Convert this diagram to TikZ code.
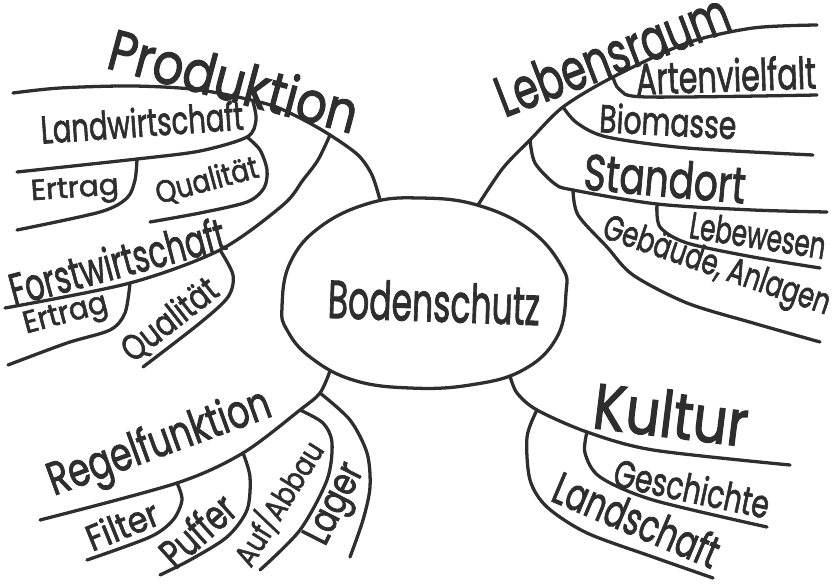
\documentclass[tikz,border=0pt]{standalone}
\usepackage{fontspec}
\setmainfont{Poppins}[FakeBold=2]
\usepackage{graphicx}
\definecolor{ink}{HTML}{2E2E2E}
\newlength{\pxu}\setlength{\pxu}{0.03cm}
\newcommand{\hand}[3]{\resizebox*{#1\pxu}{#2\pxu}{#3}}
\tikzset{
  branch/.style={draw=ink, line width=2.8pt, line cap=round, line join=round},
  word/.style={text=ink, inner sep=0pt},
}

\begin{document}
\begin{tikzpicture}[x=0.03cm, y=-0.03cm]
    \useasboundingbox (0,0) rectangle (838,584);
    % centre
    \node[word, rotate=-2] (boden) at (434,302) {\hand{212}{40}{Bodenschutz}};
    \draw[branch] plot[smooth cycle, tension=0.7] coordinates {(282,307) (290,263) (320,227) (370,203) (420,198) (477,205) (530,230) (562,267) (566,293) (557,337) (523,370) (470,385) (410,388) (353,380) (310,357) (287,330)};
    \coordinate (eP) at (380,200);
    \coordinate (eL) at (478,205);
    \coordinate (eR) at (330,371);
    \coordinate (eK) at (510,376);

    % Produktion
    \coordinate (pF) at (330,135);
    \coordinate (pL) at (253,102);
    \coordinate (pQ) at (247,137);
    \coordinate (pE) at (137,159);
    \coordinate (fQ) at (220,250);
    \coordinate (fE) at (130,283);
    \draw[branch] plot[smooth] coordinates {(eP) (372,175) (358,155) (pF) (300,118) (267,104) (200,90) (133,86) (60,88) (13,93)};
    \draw[branch] plot[smooth] coordinates {(pL) (256,120) (pQ) (200,151) (pE) (17,172)};
    \draw[branch] plot[smooth] coordinates {(pQ) (260,150) (267,170) (264,188) (247,202) (200,213) (150,222)};
    \draw[branch] plot[smooth] coordinates {(pE) (135,180) (127,198) (100,212) (17,230)};
    \draw[branch] plot[smooth] coordinates {(pF) (318,160) (303,180) (283,205) (fQ) (fE) (5,308)};
    \draw[branch] plot[smooth] coordinates {(fQ) (233,275) (228,297) (200,323) (143,367)};
    \draw[branch] plot[smooth] coordinates {(fE) (125,313) (110,330) (67,343) (8,365)};
    \node[word, rotate=-15] (prod) at (234,80) {\hand{256}{44}{Produktion}};
    \node[word, rotate=4] (landw) at (142,122) {\hand{203}{30}{Landwirtschaft}};
    \node[word, rotate=4] (ertragA) at (75,191) {\hand{88}{28}{Ertrag}};
    \node[word, rotate=15] (qualA) at (207,181) {\hand{105}{28}{Qualität}};
    \node[word, rotate=15] (forst) at (117,261) {\hand{222}{35}{Forstwirtschaft}};
    \node[word, rotate=15] (ertragB) at (66,316) {\hand{86}{30}{Ertrag}};
    \node[word, rotate=38] (qualB) at (170,320) {\hand{112}{32}{Qualität}};

    % Lebensraum
    \coordinate (lS) at (530,140);
    \coordinate (lB) at (563,107);
    \coordinate (lA) at (613,77);
    \coordinate (sG) at (573,190);
    \coordinate (sL) at (657,204);
    \draw[branch] plot[smooth] coordinates {(eL) (503,168) (lS) (lB) (lA) (687,43) (753,28) (817,25)};
    \draw[branch] plot[smooth] coordinates {(lA) (620,90) (647,97) (817,95)};
    \draw[branch] plot[smooth] coordinates {(lB) (577,123) (607,137) (687,148) (813,155)};
    \draw[branch] plot[smooth] coordinates {(lS) (535,163) (555,184) (sG) (sL) (753,210) (827,212)};
    \draw[branch] plot[smooth] coordinates {(sL) (660,227) (687,243) (753,257) (820,268)};
    \draw[branch] plot[smooth] coordinates {(sG) (578,215) (607,247) (633,275) (687,303) (753,323) (820,342)};
    \node[word, rotate=21] (leben) at (612,54) {\hand{246}{43}{Lebensraum}};
    \node[word, rotate=2] (arten) at (726,75) {\hand{180}{34}{Artenvielfalt}};
    \node[word, rotate=-3] (bio) at (668,121) {\hand{137}{30}{Biomasse}};
    \node[word, rotate=-5] (stand) at (665,178) {\hand{162}{38}{Standort}};
    \node[word, rotate=-9] (lebew) at (758,235) {\hand{137}{28}{Lebewesen}};
    \node[word, rotate=-19] (geb) at (716,268) {\hand{238}{36}{Gebäude, Anlagen}};

    % Regelfunktion
    \coordinate (rL) at (320,393);
    \coordinate (rA) at (300,410);
    \coordinate (rP) at (243,453);
    \coordinate (rF) at (177,483);
    \draw[branch] plot[smooth] coordinates {(eR) (rL) (rA) (rP) (rF) (40,520)};
    \draw[branch] plot[smooth] coordinates {(rL) (350,420) (367,453) (370,487) (363,520) (350,557)};
    \draw[branch] plot[smooth] coordinates {(rA) (323,423) (332,443) (327,480) (300,530) (260,570)};
    \draw[branch] plot[smooth] coordinates {(rP) (250,477) (247,510) (227,537) (190,560) (160,575)};
    \draw[branch] plot[smooth] coordinates {(rF) (182,500) (173,520) (150,537) (87,560)};
    \node[word, rotate=20] (regel) at (160,445) {\hand{234}{48}{Regelfunktion}};
    \node[word, rotate=22] (filter) at (122,525) {\hand{75}{28}{Filter}};
    \node[word, rotate=42] (puffer) at (197,530) {\hand{86}{32}{Puffer}};
    \node[word, rotate=58] (aufab) at (278,503) {\hand{140}{34}{Auf/Abbau}};
    \node[word, rotate=63] (lager) at (337,505) {\hand{86}{38}{Lager}};

    % Kultur
    \coordinate (kL) at (537,410);
    \coordinate (kG) at (587,432);
    \draw[branch] plot[smooth] coordinates {(eK) (517,393) (kL) (kG) (653,450) (790,465)};
    \draw[branch] plot[smooth] coordinates {(kL) (527,437) (530,480) (547,507) (587,533) (653,557) (713,578)};
    \draw[branch] plot[smooth] coordinates {(kG) (585,453) (600,477) (653,500) (767,527)};
    \node[word, rotate=-7] (kultur) at (671,414) {\hand{155}{48}{Kultur}};
    \node[word, rotate=-12] (gesch) at (692,488) {\hand{158}{30}{Geschichte}};
    \node[word, rotate=-23] (landsch) at (637,519) {\hand{176}{35}{Landschaft}};
\end{tikzpicture}
\end{document}
